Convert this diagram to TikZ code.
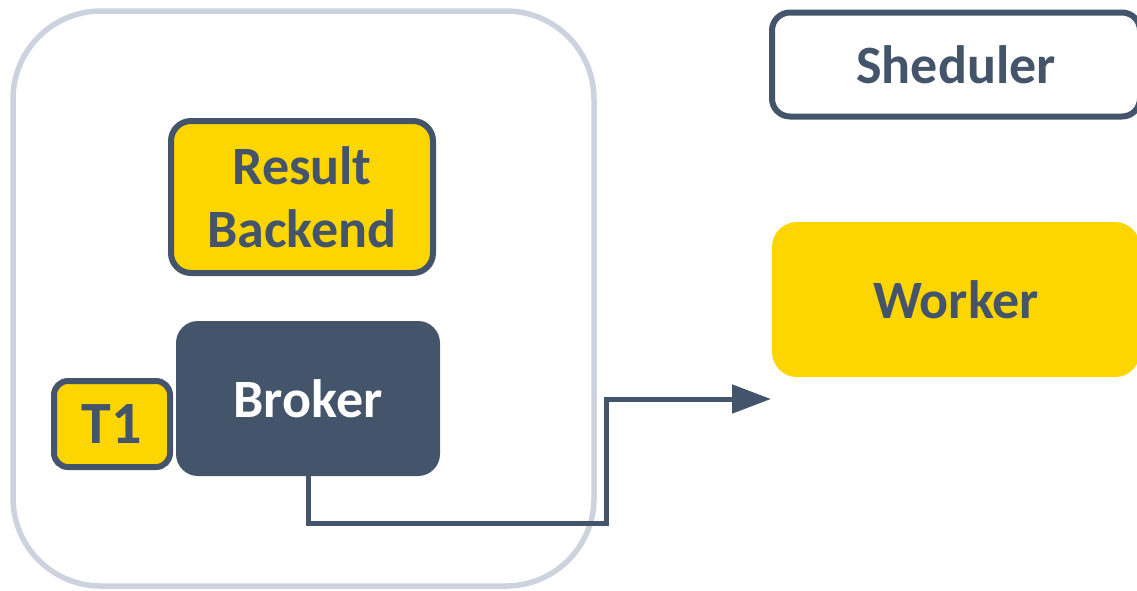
\documentclass[tikz,border=0pt]{standalone}
\usepackage{fontspec}
\setmainfont{Carlito}
\usetikzlibrary{arrows.meta}
\definecolor{dark}{HTML}{44546A}
\definecolor{yel}{HTML}{FDD500}
\definecolor{pale}{HTML}{CDD3DE}
\begin{document}
\begin{tikzpicture}[x=1pt,y=-1pt,
  lbl/.style={font=\fontsize{54}{63}\selectfont\bfseries, text=dark, align=center, inner sep=0pt},
  yelbox/.style={lbl, rectangle, rounded corners=20pt, fill=yel, draw=dark, line width=6pt},
  flow/.style={draw=dark, line width=5pt, -{Triangle[length=39pt,width=28pt]}}]
\useasboundingbox (0,0) rectangle (1137,590);
\clip (0,0) rectangle (1137,590);
\node[rectangle, rounded corners=88pt, draw=pale, line width=5.5pt,
      minimum width=581pt, minimum height=575pt, inner sep=0pt] (container) at (303.5,298.5) {};
\node[yelbox, minimum width=262pt, minimum height=152pt] (result) at (302,197) {Result\\Backend};
\node[lbl, rectangle, rounded corners=22pt, fill=dark, text=white,
      minimum width=264pt, minimum height=155pt] (broker) at (308,398.5) {Broker};
\node[yelbox, rounded corners=14pt, minimum width=116pt, minimum height=86pt,
      font=\fontsize{60}{63}\selectfont\bfseries] (t1) at (112,424) {T1};
\node[lbl, rectangle, rounded corners=18pt, fill=white, draw=dark, line width=6pt,
      minimum width=368pt, minimum height=104pt] (sched) at (956,64.5) {Sheduler};
\node[lbl, rectangle, rounded corners=25pt, fill=yel,
      minimum width=368pt, minimum height=155pt] (worker) at (956,299.5) {Worker};
\coordinate (bend) at (606,523);
\coordinate (arrowend) at (771,399);
\draw[flow] (broker.south) |- (bend) |- (arrowend);
\end{tikzpicture}
\end{document}
